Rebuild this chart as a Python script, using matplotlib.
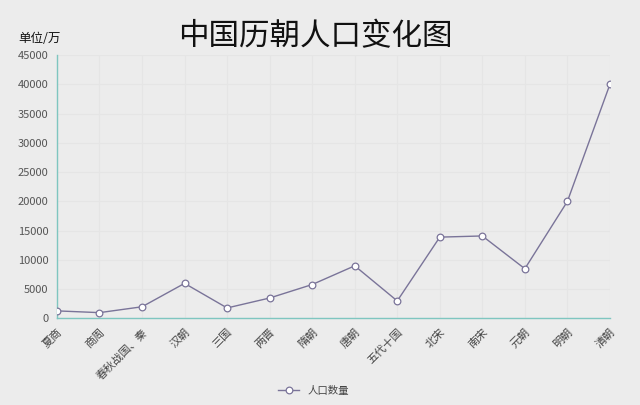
#import libraries
import matplotlib
matplotlib.use('Agg')
import matplotlib.pyplot as plt

plt.rcParams['font.family'] = ['Noto Sans CJK SC', 'DejaVu Sans']

# dynasties and population (unit: 10k people)
dynasties = ['夏商', '商周', '春秋战国、秦', '汉朝', '三国', '两晋', '隋朝', '唐朝',
             '五代十国', '北宋', '南宋', '元朝', '明朝', '清朝']
population = [1300, 1000, 2000, 6000, 1800, 3500, 5800, 9000,
              3000, 13900, 14100, 8500, 20000, 40000]
y_ticks = [0, 5000, 10000, 15000, 20000, 25000, 30000, 35000, 40000, 45000]

bg = '#ececec'
line_color = '#7a7499'
axis_color = '#7fc6c0'

fig = plt.figure(figsize=(6.4, 4.05), dpi=100, facecolor=bg)
ax = fig.add_axes([0.089, 0.2136, 0.864, 0.6504])
ax.set_facecolor(bg)

x = list(range(len(dynasties)))
ax.plot(x, population, color=line_color, linewidth=1.0, marker='o', markersize=4.8,
        markerfacecolor='white', markeredgecolor=line_color, markeredgewidth=0.9,
        label='人口数量', zorder=3)

ax.set_xlim(0, len(dynasties) - 1)
ax.set_ylim(0, 45000)
ax.set_yticks(y_ticks)
ax.set_yticklabels([str(v) for v in y_ticks], fontsize=8, color='#555555')
ax.set_xticks(x)
ax.set_xticklabels(dynasties, rotation=45, ha='right', rotation_mode='anchor',
                   fontsize=8, color='#444444')
ax.tick_params(axis='both', length=0, pad=6)

# faint grid
ax.grid(True, color='#e5e5e5', linewidth=0.8)
ax.set_axisbelow(True)

for side in ['top', 'right']:
    ax.spines[side].set_visible(False)
ax.spines['left'].set_color(axis_color)
ax.spines['bottom'].set_color(axis_color)
ax.spines['left'].set_linewidth(1.0)
ax.spines['bottom'].set_linewidth(1.0)

fig.text(0.492, 0.909, '中国历朝人口变化图', fontsize=22, ha='center', va='center', color='#111111')
fig.text(0.028, 0.905, '单位/万', fontsize=9, ha='left', va='center', color='#111111')

fig.legend(loc='lower center', bbox_to_anchor=(0.49, 0.0), frameon=False, fontsize=7.5,
           handlelength=2.0, labelcolor='#444444')

fig.savefig('out.png', dpi=100, facecolor=bg)
